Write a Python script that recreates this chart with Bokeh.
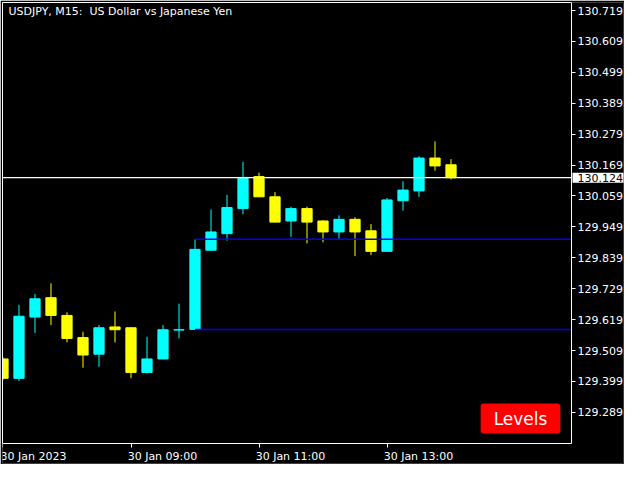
from bokeh.plotting import figure
from bokeh.models import FixedTicker, Label, Range1d, LinearAxis
from bokeh.embed import file_html
from bokeh.resources import INLINE

# ---- data (USDJPY, M15, 15-minute bars starting 30 Jan 2023 07:00) ----
opens = [129.479, 129.410, 129.628, 129.697, 129.634, 129.555, 129.496, 129.593,
         129.590, 129.431, 129.479, 129.582, 129.584, 129.866, 129.925, 130.014,
         130.128, 130.056, 129.970, 130.014, 129.970, 129.931, 129.976, 129.935,
         129.862, 130.042, 130.077, 130.194, 130.170]
highs = [129.485, 129.672, 129.710, 129.748, 129.645, 129.576, 129.600, 129.648,
         129.592, 129.558, 129.600, 129.676, 129.905, 130.011, 130.063, 130.180,
         130.142, 130.073, 130.021, 130.021, 129.973, 129.990, 129.983, 129.959,
         130.052, 130.111, 130.201, 130.253, 130.190]
lows = [129.405, 129.401, 129.572, 129.600, 129.538, 129.448, 129.451, 129.538,
        129.410, 129.427, 129.478, 129.552, 129.584, 129.865, 129.900, 129.994,
        130.055, 129.965, 129.914, 129.890, 129.894, 129.907, 129.845, 129.849,
        129.861, 130.007, 130.056, 130.149, 130.118]
closes = [129.410, 129.631, 129.693, 129.634, 129.552, 129.493, 129.590, 129.583,
          129.431, 129.479, 129.583, 129.583, 129.869, 129.931, 130.018, 130.125,
          130.056, 129.966, 130.014, 129.966, 129.931, 129.976, 129.931, 129.862,
          130.045, 130.080, 130.194, 130.166, 130.124]

x_tick_index = [0, 8, 16, 24]
x_tick_labels = ["30 Jan 2023", "30 Jan 09:00", "30 Jan 11:00", "30 Jan 13:00"]
y_tick_labels = ["130.719", "130.609", "130.499", "130.389", "130.279", "130.169",
                 "130.059", "129.949", "129.839", "129.729", "129.619", "129.509",
                 "129.399", "129.289"]
title_text = "USDJPY, M15:\u00a0 US Dollar vs Japanese Yen"
current_price = 130.124
level_bar = 12
button_text = "Levels"

BULL = "#00ffff"
BEAR = "#ffff00"
FONT = "DejaVu Sans"

x = list(range(len(opens)))
colors = [BULL if c >= o else BEAR for o, c in zip(opens, closes)]
tops = [max(o, c) for o, c in zip(opens, closes)]
bottoms = [min(o, c) for o, c in zip(opens, closes)]

W, H = 624, 464
# chart area in bar-index units; the frame continues under the scales
x_start, axis_x, x_end = -0.031, 35.53, 38.78
y_start, axis_y, y_end = 129.107, 129.178, 130.7475

p = figure(width=W, height=H, output_backend="svg", toolbar_location=None,
           x_range=Range1d(x_start, x_end), y_range=Range1d(y_start, y_end),
           y_axis_location=None,
           min_border_left=2, min_border_top=2, min_border_right=1,
           min_border_bottom=1)
p.background_fill_color = "black"
p.border_fill_color = "black"
p.outline_line_color = None
p.xgrid.visible = False
p.ygrid.visible = False

# candles
p.segment(x0=x, y0=highs, x1=x, y1=lows, line_color=colors, line_width=1)
p.vbar(x=x, width=0.64, top=tops, bottom=bottoms, fill_color=colors,
       line_color=colors, line_width=1)

# level lines from the breakout bar
lvl_y = [highs[level_bar], lows[level_bar]]
p.segment(x0=[level_bar, level_bar], y0=lvl_y, x1=[axis_x, axis_x], y1=lvl_y,
          line_color="#0000ff", line_width=1.6)

# current price line
p.segment(x0=[x_start], y0=[current_price], x1=[axis_x], y1=[current_price],
          line_color="white", line_width=1.2)


def style(ax):
    ax.axis_line_color = "white"
    ax.axis_line_width = 1
    ax.major_tick_line_color = "white"
    ax.minor_tick_line_color = None
    ax.major_tick_out = 4
    ax.major_tick_in = 0
    ax.major_label_text_color = "white"
    ax.major_label_text_font = FONT
    ax.major_label_text_font_size = "11px"
    ax.major_label_standoff = 2


# time axis: labels start at their tick (left padded with nbsp)
cw = {"0": 7.0, "1": 7.0, "2": 7.0, "3": 7.0, "4": 7.0, "5": 7.0, "6": 7.0,
      "7": 7.0, "8": 7.0, "9": 7.0, " ": 3.5, "J": 3.2, "a": 6.7, "n": 7.0, ":": 3.7}


def padded(s):
    w = sum(cw.get(ch, 6.5) for ch in s)
    return "\u00a0" * (int(round(w / 3.5)) - 2) + s


xa = p.xaxis[0]
style(xa)
xa.ticker = FixedTicker(ticks=x_tick_index)
xa.bounds = (x_start, axis_x)
xa.fixed_location = axis_y
xa.major_label_overrides = {i: (s if k == 0 else padded(s))
                            for k, (i, s) in enumerate(zip(x_tick_index, x_tick_labels))}

# price axis drawn at the right edge of the chart area
y_ticks = [float(s) for s in y_tick_labels]
ya = LinearAxis(ticker=FixedTicker(ticks=y_ticks), fixed_location=axis_x,
                bounds=(axis_y, y_end),
                major_label_overrides={v: s for v, s in zip(y_ticks, y_tick_labels)})
style(ya)
p.add_layout(ya, "right")

# plain border lines on the top and left of the chart area
top_ax = LinearAxis(ticker=FixedTicker(ticks=[]), bounds=(x_start, axis_x))
left_ax = LinearAxis(ticker=FixedTicker(ticks=[]), bounds=(axis_y, y_end))
for ax in (top_ax, left_ax):
    ax.axis_line_color = "white"
    ax.major_tick_line_color = None
    ax.minor_tick_line_color = None
    ax.major_tick_out = 0
    ax.minor_tick_out = 0
    ax.major_label_standoff = 0
    ax.major_label_text_font_size = "0px"
p.add_layout(top_ax, "above")
p.add_layout(left_ax, "left")

# title
p.add_layout(Label(x=x_start, y=y_end, x_offset=6, y_offset=-2,
                   text=title_text, text_color="white", text_font=FONT,
                   text_font_size="11px", text_baseline="top", text_align="left"))

# current price tag on the price scale
p.add_layout(Label(x=axis_x, y=current_price, x_offset=1,
                   text=f"{current_price:.3f}", text_color="black", text_font=FONT,
                   text_font_size="11px", text_baseline="middle", text_align="left",
                   background_fill_color="white",
                   padding=dict(left=5, right=4, top=1, bottom=1)))

# Levels button
p.add_layout(Label(x=axis_x, y=axis_y, x_offset=-51, y_offset=25,
                   text=button_text, text_color="white", text_font=FONT,
                   text_font_size="17px", text_baseline="middle", text_align="center",
                   background_fill_color="#ff0000",
                   padding=dict(left=13, right=13, top=5, bottom=5),
                   border_radius=3))

open("out.html", "w").write(file_html(p, INLINE))
